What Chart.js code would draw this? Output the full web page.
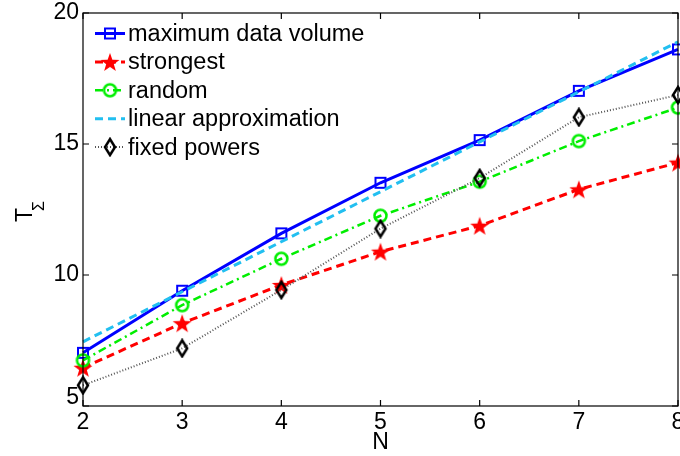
<!DOCTYPE html>
<html>
<head>
<meta charset="utf-8">
<script src="https://cdn.jsdelivr.net/npm/chart.js@4.4.1/dist/chart.umd.min.js"></script>
<style>
  body { margin: 0; background: #fff; }
  canvas { display: block; }
</style>
</head>
<body>
<canvas id="chart" width="680" height="456"></canvas>
<script>
// values
const nValues = [2, 3, 4, 5, 6, 7, 8];
const maxDataVolume = [7.03, 9.40, 11.59, 13.52, 15.15, 17.03, 18.61];
const strongest = [6.46, 8.16, 9.62, 10.89, 11.88, 13.27, 14.29];
const random = [6.74, 8.85, 10.62, 12.26, 13.56, 15.11, 16.39];
const linearApprox = [7.45, 9.36, 11.27, 13.18, 15.08, 16.99, 18.90];
const fixedPowers = [5.79, 7.20, 9.43, 11.77, 13.70, 16.02, 16.87];
const xTicks = [2, 3, 4, 5, 6, 7, 8];
const yTicks = [5, 10, 15, 20];

const FONT = '"Liberation Sans", Arial, sans-serif';

// marker images (MATLAB-like markers)
function makeMarker(w, h, draw) {
    const c = document.createElement('canvas');
    c.width = w; c.height = h;
    draw(c.getContext('2d'));
    return c;
}

const squareMarker = makeMarker(14, 14, ctx => {
    ctx.strokeStyle = '#0000ff';
    ctx.lineWidth = 2;
    ctx.strokeRect(2, 2, 10, 10);
});

const starMarker = makeMarker(22, 22, ctx => {
    ctx.fillStyle = '#ff0000';
    ctx.beginPath();
    for (let i = 0; i < 10; i++) {
        const r = i % 2 === 0 ? 10 : 4;
        const a = -Math.PI / 2 + i * Math.PI / 5;
        const px = 11 + r * Math.cos(a), py = 12 + r * Math.sin(a);
        if (i === 0) ctx.moveTo(px, py); else ctx.lineTo(px, py);
    }
    ctx.closePath();
    ctx.fill();
});

const circleMarker = makeMarker(17, 17, ctx => {
    ctx.strokeStyle = '#00ee00';
    ctx.lineWidth = 2.5;
    ctx.beginPath();
    ctx.arc(8.5, 8.5, 6, 0, Math.PI * 2);
    ctx.stroke();
});

const diamondMarker = makeMarker(16, 20, ctx => {
    ctx.strokeStyle = '#000';
    ctx.lineWidth = 2.5;
    ctx.beginPath();
    ctx.moveTo(8, 2);
    ctx.lineTo(13, 10);
    ctx.lineTo(8, 18);
    ctx.lineTo(3, 10);
    ctx.closePath();
    ctx.stroke();
});

function toPoints(values) {
    return nValues.map((n, i) => ({ x: n, y: values[i] }));
}

const series = [
    { label: 'maximum data volume', data: maxDataVolume, color: '#0000ff', dash: [], width: 3, marker: squareMarker, order: 5 },
    { label: 'strongest', data: strongest, color: '#ff0000', dash: [8, 5], width: 3, marker: starMarker, order: 4 },
    { label: 'random', data: random, color: '#00ee00', dash: [8, 4, 2, 4], width: 2.5, marker: circleMarker, order: 3 },
    { label: 'linear approximation', data: linearApprox, color: '#22bff0', dash: [8, 5], width: 3, marker: null, order: 2 },
    { label: 'fixed powers', data: fixedPowers, color: '#555', dash: [1, 2], width: 2, marker: diamondMarker, order: 1 }
];

// frame, inward ticks, axis titles and legend
const decorations = {
    id: 'decorations',
    afterDatasetsDraw(chart) {
        const ctx = chart.ctx;
        const area = chart.chartArea;
        const xs = chart.scales.x, ys = chart.scales.y;
        ctx.save();
        ctx.strokeStyle = '#000';
        ctx.lineWidth = 1.2;
        ctx.strokeRect(area.left, area.top, area.right - area.left, area.bottom - area.top);
        const tl = 6;
        ctx.beginPath();
        xTicks.forEach(v => {
            const px = xs.getPixelForValue(v);
            ctx.moveTo(px, area.bottom); ctx.lineTo(px, area.bottom - tl);
            ctx.moveTo(px, area.top); ctx.lineTo(px, area.top + tl);
        });
        yTicks.forEach(v => {
            const py = ys.getPixelForValue(v);
            ctx.moveTo(area.left, py); ctx.lineTo(area.left + tl, py);
            ctx.moveTo(area.right, py); ctx.lineTo(area.right - tl, py);
        });
        ctx.stroke();

        ctx.fillStyle = '#000';
        ctx.font = '23px ' + FONT;
        // lowest y label sits a bit higher, as in the original
        ctx.textAlign = 'right';
        ctx.textBaseline = 'middle';
        ctx.fillText('5', area.left - 4, ys.getPixelForValue(5) - 8);

        // x title
        ctx.textAlign = 'center';
        ctx.fillText('N', (area.left + area.right) / 2, 443);

        // y title T with subscript sigma
        ctx.save();
        ctx.rotate(-Math.PI / 2);
        ctx.textBaseline = 'alphabetic';
        ctx.textAlign = 'center';
        ctx.font = '23px ' + FONT;
        ctx.fillText('T', -215, 32);
        ctx.textAlign = 'left';
        ctx.font = '16px ' + FONT;
        ctx.fillText('Σ', -211, 44);
        ctx.restore();

        // legend
        ctx.font = '23.5px ' + FONT;
        ctx.textAlign = 'left';
        ctx.textBaseline = 'middle';
        series.forEach((s, i) => {
            const y = 33.5 + i * 28.4;
            ctx.save();
            ctx.strokeStyle = s.color;
            ctx.lineWidth = s.width;
            ctx.setLineDash(s.dash);
            ctx.beginPath();
            ctx.moveTo(95, y); ctx.lineTo(125, y);
            ctx.stroke();
            ctx.restore();
            if (s.marker) {
                ctx.drawImage(s.marker, 110 - s.marker.width / 2, y - s.marker.height / 2);
            }
            ctx.fillStyle = '#000';
            ctx.fillText(s.label, 128, y + 1);
        });
        ctx.restore();
    }
};

new Chart(document.getElementById('chart'), {
    type: 'line',
    data: {
        datasets: series.map(s => ({
            label: s.label,
            data: toPoints(s.data),
            borderColor: s.color,
            borderWidth: s.width,
            borderDash: s.dash,
            pointStyle: s.marker || false,
            pointRadius: s.marker ? 6 : 0,
            fill: false,
            tension: 0,
            clip: false,
            order: s.order
        }))
    },
    options: {
        responsive: false,
        animation: false,
        layout: { autoPadding: false, padding: { top: 13, right: 2, left: 0, bottom: 0 } },
        plugins: {
            legend: { display: false },
            tooltip: { enabled: false }
        },
        scales: {
            x: {
                type: 'linear',
                min: 2,
                max: 8,
                afterBuildTicks: scale => { scale.ticks = xTicks.map(v => ({ value: v })); },
                afterFit: scale => {
                    scale.height = 50;
                    scale.paddingLeft = 0;
                    scale.paddingRight = 0;
                },
                grid: { display: false, drawTicks: false, tickLength: 0 },
                border: { display: false },
                ticks: {
                    color: '#000',
                    font: { family: FONT, size: 23 },
                    padding: 3,
                    maxRotation: 0,
                    autoSkip: false
                }
            },
            y: {
                type: 'linear',
                min: 5,
                max: 20,
                afterBuildTicks: scale => { scale.ticks = yTicks.map(v => ({ value: v })); },
                afterFit: scale => {
                    scale.width = 83;
                    scale.paddingTop = 0;
                    scale.paddingBottom = 0;
                },
                grid: { display: false, drawTicks: false, tickLength: 0 },
                border: { display: false },
                ticks: {
                    color: '#000',
                    font: { family: FONT, size: 23 },
                    padding: 4,
                    callback: v => (v === 5 ? '' : String(v))
                }
            }
        }
    },
    plugins: [decorations]
});
</script>
</body>
</html>
